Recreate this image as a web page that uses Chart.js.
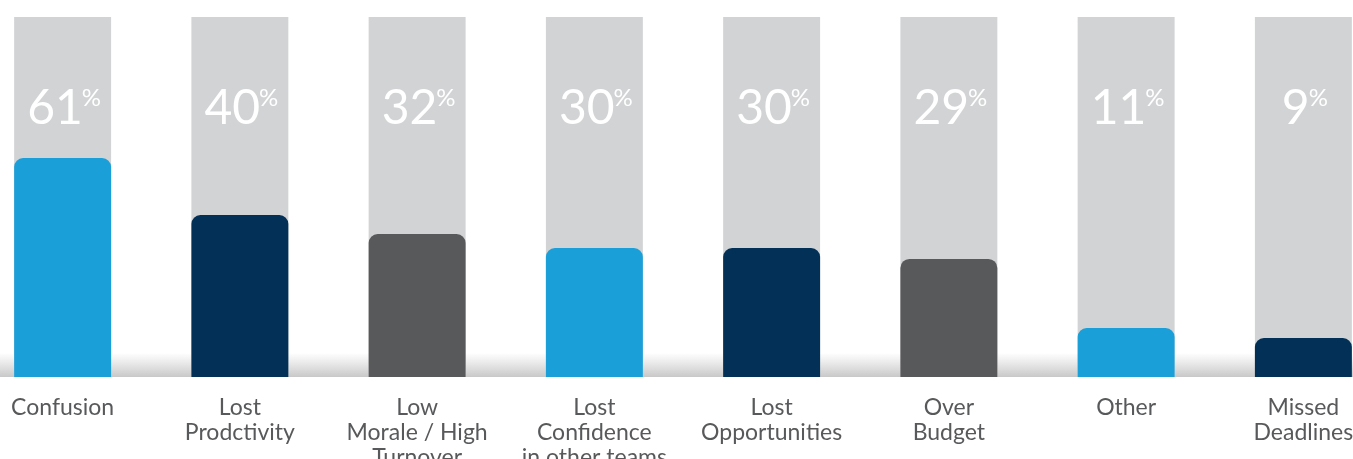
<!DOCTYPE html>
<html>
<head>
<meta charset="utf-8">
<script src="https://cdn.jsdelivr.net/npm/chart.js@4.4.0/dist/chart.umd.min.js"></script>
<style>
  html, body { margin: 0; padding: 0; background: #fff; overflow: hidden; }
  body { width: 1353px; height: 459px; position: relative; }
  .chart-wrap { position: absolute; left: -26px; top: 0; width: 1418px; height: 459px; }
</style>
</head>
<body>
<div class="chart-wrap"><canvas id="chart"></canvas></div>
<script>
// categories (multi-line labels)
const categories = [
  ['Confusion'],
  ['Lost', 'Prodctivity'],
  ['Low', 'Morale / High', 'Turnover'],
  ['Lost', 'Confidence', 'in other teams'],
  ['Lost', 'Opportunities'],
  ['Over', 'Budget'],
  ['Other'],
  ['Missed', 'Deadlines']
];
// printed percentages
const percentLabels = [61, 40, 32, 30, 30, 29, 11, 9];
// bar heights as drawn (share of the full grey column)
const barHeights = [60.8, 45, 39.7, 35.8, 35.8, 32.8, 13.6, 10.8];
const fullColumn = [100, 100, 100, 100, 100, 100, 100, 100];
const barColors = ['#1b9fd9', '#023057', '#58595b', '#1b9fd9', '#023057', '#58595b', '#1b9fd9', '#023057'];

// soft shadow along the baseline
const baselineShade = {
  id: 'baselineShade',
  beforeDatasetsDraw(chart) {
    const { ctx, chartArea } = chart;
    const g = ctx.createLinearGradient(0, chartArea.bottom - 24, 0, chartArea.bottom);
    g.addColorStop(0, 'rgba(205,205,205,0)');
    g.addColorStop(1, 'rgba(200,200,200,1)');
    ctx.save();
    ctx.fillStyle = g;
    ctx.fillRect(0, chartArea.bottom - 24, chart.width, 24);
    ctx.restore();
  }
};

// big white percent numbers inside the grey columns
const percentText = {
  id: 'percentText',
  afterDatasetsDraw(chart) {
    const { ctx, chartArea } = chart;
    const meta = chart.getDatasetMeta(1);
    ctx.save();
    ctx.fillStyle = '#ffffff';
    ctx.textBaseline = 'alphabetic';
    ctx.textAlign = 'left';
    meta.data.forEach((bar, i) => {
      const num = String(percentLabels[i]);
      ctx.font = '400 48px Lato, sans-serif';
      const wNum = ctx.measureText(num).width;
      ctx.font = '400 24px Lato, sans-serif';
      const wPct = ctx.measureText('%').width;
      const left = bar.x - (wNum + wPct) / 2 + 2;
      ctx.font = '400 48px Lato, sans-serif';
      ctx.fillText(num, left, chartArea.top + 107);
      ctx.font = '400 24px Lato, sans-serif';
      ctx.fillText('%', left + wNum - 1, chartArea.top + 89);
    });
    ctx.restore();
  }
};

new Chart(document.getElementById('chart'), {
  type: 'bar',
  data: {
    labels: categories,
    datasets: [
      {
        data: barHeights,
        backgroundColor: barColors,
        borderRadius: { topLeft: 9, topRight: 9 },
        borderSkipped: 'bottom',
        order: 0
      },
      {
        data: fullColumn,
        backgroundColor: '#d1d3d4',
        order: 1
      }
    ]
  },
  options: {
    responsive: true,
    maintainAspectRatio: false,
    animation: false,
    layout: { padding: { top: 17, left: 0, right: 0, bottom: 0 } },
    datasets: {
      bar: { grouped: false, barPercentage: 1, categoryPercentage: 0.547 }
    },
    plugins: {
      legend: { display: false },
      tooltip: { enabled: false }
    },
    scales: {
      x: {
        grid: { display: false },
        border: { display: false },
        ticks: {
          color: '#58595b',
          padding: 10,
          maxRotation: 0,
          autoSkip: false,
          font: { family: 'Lato, sans-serif', size: 23, weight: '400', lineHeight: 1.09 }
        },
        afterFit(scale) { scale.height = 82; }
      },
      y: {
        display: false,
        min: 0,
        max: 100
      }
    }
  },
  plugins: [baselineShade, percentText]
});
</script>
</body>
</html>
